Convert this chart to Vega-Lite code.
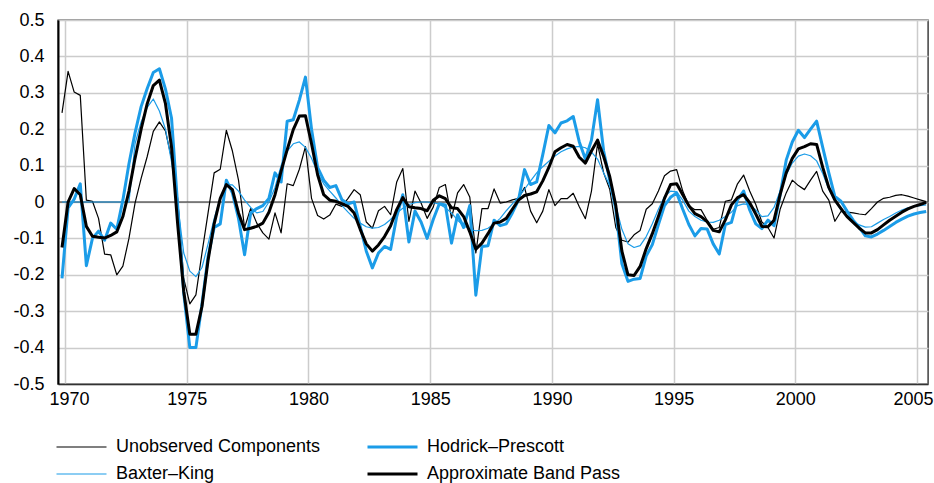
{
  "$schema": "https://vega.github.io/schema/vega-lite/v6.json",
  "width": 870,
  "height": 364,
  "autosize": {"type": "none"},
  "padding": {"left": 58, "top": 20, "right": 6, "bottom": 99},
  "background": "white",
  "config": {
    "font": "Liberation Sans",
    "view": {"stroke": "#333333", "strokeWidth": 1.4},
    "axis": {"labelFont": "Liberation Sans", "labelFontSize": 18, "labelColor": "black", "ticks": false, "gridColor": "#cccccc", "gridWidth": 1.5, "title": null, "labelOverlap": false},
    "axisY": {"grid": true},
    "axisX": {"grid": true}
  },
  "layer": [
    {
      "data": {"values": [{}]},
      "mark": {"type": "rule", "color": "#222222", "strokeWidth": 1.2},
      "encoding": {"y": {"datum": 0, "type": "quantitative", "scale": {"domain": [-0.5, 0.5], "nice": false},
        "axis": {"values": [-0.5, -0.4, -0.3, -0.2, -0.1, 0, 0.1, 0.2, 0.3, 0.4, 0.5], "grid": true, "labelPadding": 14, "domainColor": "black", "domainWidth": 2, "labelOverlap": false,
                 "labelExpr": "datum.value == 0 ? '0' : (datum.value < 0 ? '-' + format(-datum.value, '.1f') : format(datum.value, '.1f'))"}}}
    },
    {
      "data": {"values": [
        {"t":1969.875,"uc":0.245,"bk":0,"hp":-0.21,"abp":-0.125},
        {"t":1970.125,"uc":0.359,"bk":0,"hp":-0.016,"abp":0},
        {"t":1970.375,"uc":0.302,"bk":0,"hp":0.008,"abp":0.037},
        {"t":1970.625,"uc":0.293,"bk":0,"hp":0.05,"abp":0.02},
        {"t":1970.875,"uc":0.005,"bk":0,"hp":-0.175,"abp":-0.067},
        {"t":1971.125,"uc":0.002,"bk":0,"hp":-0.1,"abp":-0.094},
        {"t":1971.375,"uc":-0.045,"bk":0,"hp":-0.08,"abp":-0.097},
        {"t":1971.625,"uc":-0.143,"bk":0,"hp":-0.105,"abp":-0.099},
        {"t":1971.875,"uc":-0.145,"bk":0,"hp":-0.058,"abp":-0.092},
        {"t":1972.125,"uc":-0.2,"bk":0,"hp":-0.075,"abp":-0.082},
        {"t":1972.375,"uc":-0.176,"bk":0,"hp":0.005,"abp":-0.04},
        {"t":1972.625,"uc":-0.1,"bk":0,"hp":0.105,"abp":0.03},
        {"t":1972.875,"uc":-0.003,"bk":0.16,"hp":0.19,"abp":0.12},
        {"t":1973.125,"uc":0.065,"bk":0.22,"hp":0.262,"abp":0.2},
        {"t":1973.375,"uc":0.125,"bk":0.26,"hp":0.312,"abp":0.27},
        {"t":1973.625,"uc":0.194,"bk":0.283,"hp":0.356,"abp":0.32},
        {"t":1973.875,"uc":0.22,"bk":0.25,"hp":0.366,"abp":0.335},
        {"t":1974.125,"uc":0.195,"bk":0.2,"hp":0.31,"abp":0.27},
        {"t":1974.375,"uc":0.12,"bk":0.11,"hp":0.23,"abp":0.15},
        {"t":1974.625,"uc":0.01,"bk":-0.005,"hp":-0.01,"abp":-0.06},
        {"t":1974.875,"uc":-0.21,"bk":-0.14,"hp":-0.25,"abp":-0.245},
        {"t":1975.125,"uc":-0.28,"bk":-0.19,"hp":-0.4,"abp":-0.363},
        {"t":1975.375,"uc":-0.255,"bk":-0.205,"hp":-0.4,"abp":-0.363},
        {"t":1975.625,"uc":-0.14,"bk":-0.18,"hp":-0.28,"abp":-0.287},
        {"t":1975.875,"uc":-0.03,"bk":-0.115,"hp":-0.15,"abp":-0.16},
        {"t":1976.125,"uc":0.08,"bk":-0.046,"hp":-0.07,"abp":-0.06},
        {"t":1976.375,"uc":0.09,"bk":0.012,"hp":-0.06,"abp":0.01},
        {"t":1976.625,"uc":0.197,"bk":0.048,"hp":0.06,"abp":0.048},
        {"t":1976.875,"uc":0.14,"bk":0.047,"hp":0.025,"abp":0.034},
        {"t":1977.125,"uc":0.06,"bk":0.03,"hp":-0.045,"abp":-0.03},
        {"t":1977.375,"uc":-0.07,"bk":0.005,"hp":-0.145,"abp":-0.076},
        {"t":1977.625,"uc":-0.018,"bk":-0.015,"hp":-0.03,"abp":-0.072},
        {"t":1977.875,"uc":-0.058,"bk":-0.03,"hp":-0.018,"abp":-0.067},
        {"t":1978.125,"uc":-0.085,"bk":-0.026,"hp":-0.01,"abp":-0.058},
        {"t":1978.375,"uc":-0.102,"bk":0,"hp":0.01,"abp":-0.028},
        {"t":1978.625,"uc":-0.03,"bk":0.04,"hp":0.08,"abp":0.02},
        {"t":1978.875,"uc":-0.085,"bk":0.1,"hp":0.055,"abp":0.085},
        {"t":1979.125,"uc":0.05,"bk":0.14,"hp":0.222,"abp":0.144},
        {"t":1979.375,"uc":0.045,"bk":0.16,"hp":0.226,"abp":0.199},
        {"t":1979.625,"uc":0.09,"bk":0.165,"hp":0.28,"abp":0.236},
        {"t":1979.875,"uc":0.152,"bk":0.15,"hp":0.343,"abp":0.237},
        {"t":1980.125,"uc":0.01,"bk":0.12,"hp":0.2,"abp":0.16},
        {"t":1980.375,"uc":-0.037,"bk":0.08,"hp":0.095,"abp":0.075},
        {"t":1980.625,"uc":-0.047,"bk":0.05,"hp":0.06,"abp":0.02},
        {"t":1980.875,"uc":-0.036,"bk":0.03,"hp":0.04,"abp":0.005},
        {"t":1981.125,"uc":-0.006,"bk":0.011,"hp":0.045,"abp":0.002},
        {"t":1981.375,"uc":-0.012,"bk":-0.01,"hp":0.006,"abp":-0.005},
        {"t":1981.625,"uc":0.01,"bk":-0.028,"hp":-0.005,"abp":-0.012},
        {"t":1981.875,"uc":0.034,"bk":-0.045,"hp":0,"abp":-0.03},
        {"t":1982.125,"uc":0.02,"bk":-0.058,"hp":-0.067,"abp":-0.075},
        {"t":1982.375,"uc":-0.055,"bk":-0.068,"hp":-0.135,"abp":-0.115},
        {"t":1982.625,"uc":-0.072,"bk":-0.072,"hp":-0.181,"abp":-0.135},
        {"t":1982.875,"uc":-0.024,"bk":-0.07,"hp":-0.14,"abp":-0.118},
        {"t":1983.125,"uc":-0.012,"bk":-0.062,"hp":-0.122,"abp":-0.095},
        {"t":1983.375,"uc":-0.035,"bk":-0.048,"hp":-0.13,"abp":-0.065},
        {"t":1983.625,"uc":0.055,"bk":-0.03,"hp":-0.04,"abp":-0.021},
        {"t":1983.875,"uc":0.092,"bk":-0.017,"hp":0.02,"abp":0.012},
        {"t":1984.125,"uc":-0.053,"bk":-0.007,"hp":-0.11,"abp":-0.013},
        {"t":1984.375,"uc":0.03,"bk":-0.002,"hp":-0.025,"abp":-0.016},
        {"t":1984.625,"uc":-0.003,"bk":0,"hp":-0.055,"abp":-0.018},
        {"t":1984.875,"uc":-0.045,"bk":0,"hp":-0.1,"abp":-0.024},
        {"t":1985.125,"uc":-0.014,"bk":-0.002,"hp":-0.048,"abp":0.005},
        {"t":1985.375,"uc":0.04,"bk":-0.006,"hp":-0.005,"abp":0.017},
        {"t":1985.625,"uc":0.048,"bk":-0.016,"hp":-0.008,"abp":0.009},
        {"t":1985.875,"uc":-0.044,"bk":-0.03,"hp":-0.113,"abp":-0.016},
        {"t":1986.125,"uc":0.025,"bk":-0.05,"hp":-0.035,"abp":-0.018},
        {"t":1986.375,"uc":0.048,"bk":-0.065,"hp":-0.07,"abp":-0.04},
        {"t":1986.625,"uc":0.014,"bk":-0.075,"hp":-0.01,"abp":-0.082},
        {"t":1986.875,"uc":-0.14,"bk":-0.079,"hp":-0.256,"abp":-0.13},
        {"t":1987.125,"uc":-0.018,"bk":-0.078,"hp":-0.122,"abp":-0.113},
        {"t":1987.375,"uc":-0.018,"bk":-0.072,"hp":-0.12,"abp":-0.087},
        {"t":1987.625,"uc":0.036,"bk":-0.06,"hp":-0.05,"abp":-0.058},
        {"t":1987.875,"uc":-0.003,"bk":-0.045,"hp":-0.065,"abp":-0.055},
        {"t":1988.125,"uc":0,"bk":-0.024,"hp":-0.06,"abp":-0.045},
        {"t":1988.375,"uc":0.006,"bk":-0.005,"hp":-0.03,"abp":-0.02},
        {"t":1988.625,"uc":0.01,"bk":0.013,"hp":0.005,"abp":0.005},
        {"t":1988.875,"uc":0.04,"bk":0.035,"hp":0.089,"abp":0.018},
        {"t":1989.125,"uc":-0.025,"bk":0.058,"hp":0.048,"abp":0.022},
        {"t":1989.375,"uc":-0.057,"bk":0.08,"hp":0.055,"abp":0.028},
        {"t":1989.625,"uc":-0.025,"bk":0.097,"hp":0.13,"abp":0.058},
        {"t":1989.875,"uc":0.034,"bk":0.112,"hp":0.21,"abp":0.095},
        {"t":1990.125,"uc":-0.01,"bk":0.126,"hp":0.19,"abp":0.138},
        {"t":1990.375,"uc":0.009,"bk":0.138,"hp":0.217,"abp":0.149},
        {"t":1990.625,"uc":0.009,"bk":0.146,"hp":0.223,"abp":0.158},
        {"t":1990.875,"uc":0.024,"bk":0.151,"hp":0.235,"abp":0.153},
        {"t":1991.125,"uc":-0.013,"bk":0.153,"hp":0.165,"abp":0.123},
        {"t":1991.375,"uc":-0.046,"bk":0.149,"hp":0.118,"abp":0.107},
        {"t":1991.625,"uc":0.03,"bk":0.137,"hp":0.17,"abp":0.14},
        {"t":1991.875,"uc":0.16,"bk":0.118,"hp":0.281,"abp":0.17},
        {"t":1992.125,"uc":0.08,"bk":0.08,"hp":0.14,"abp":0.125},
        {"t":1992.375,"uc":0.035,"bk":0.045,"hp":0.06,"abp":0.07},
        {"t":1992.625,"uc":-0.07,"bk":-0.01,"hp":-0.02,"abp":-0.01},
        {"t":1992.875,"uc":-0.105,"bk":-0.075,"hp":-0.17,"abp":-0.135},
        {"t":1993.125,"uc":-0.11,"bk":-0.115,"hp":-0.218,"abp":-0.2},
        {"t":1993.375,"uc":-0.09,"bk":-0.125,"hp":-0.212,"abp":-0.202},
        {"t":1993.625,"uc":-0.078,"bk":-0.12,"hp":-0.21,"abp":-0.177},
        {"t":1993.875,"uc":-0.02,"bk":-0.095,"hp":-0.148,"abp":-0.128},
        {"t":1994.125,"uc":-0.005,"bk":-0.06,"hp":-0.117,"abp":-0.087},
        {"t":1994.375,"uc":0.03,"bk":-0.02,"hp":-0.062,"abp":-0.04},
        {"t":1994.625,"uc":0.072,"bk":0.015,"hp":-0.01,"abp":0.01},
        {"t":1994.875,"uc":0.085,"bk":0.03,"hp":0.013,"abp":0.048},
        {"t":1995.125,"uc":0.089,"bk":0.028,"hp":0.025,"abp":0.05},
        {"t":1995.375,"uc":0.03,"bk":0.005,"hp":-0.02,"abp":0.02},
        {"t":1995.625,"uc":-0.01,"bk":-0.025,"hp":-0.062,"abp":-0.01},
        {"t":1995.875,"uc":-0.021,"bk":-0.04,"hp":-0.093,"abp":-0.032},
        {"t":1996.125,"uc":-0.021,"bk":-0.05,"hp":-0.073,"abp":-0.04},
        {"t":1996.375,"uc":-0.05,"bk":-0.055,"hp":-0.074,"abp":-0.054},
        {"t":1996.625,"uc":-0.075,"bk":-0.056,"hp":-0.115,"abp":-0.078},
        {"t":1996.875,"uc":-0.07,"bk":-0.05,"hp":-0.143,"abp":-0.082},
        {"t":1997.125,"uc":0.002,"bk":-0.04,"hp":-0.062,"abp":-0.049},
        {"t":1997.375,"uc":0.006,"bk":-0.028,"hp":-0.056,"abp":-0.008},
        {"t":1997.625,"uc":0.05,"bk":-0.01,"hp":0.006,"abp":0.012},
        {"t":1997.875,"uc":0.074,"bk":-0.005,"hp":0.03,"abp":0.02},
        {"t":1998.125,"uc":0.03,"bk":-0.008,"hp":-0.022,"abp":-0.002},
        {"t":1998.375,"uc":-0.007,"bk":-0.022,"hp":-0.06,"abp":-0.033},
        {"t":1998.625,"uc":-0.055,"bk":-0.04,"hp":-0.073,"abp":-0.067},
        {"t":1998.875,"uc":-0.07,"bk":-0.038,"hp":-0.05,"abp":-0.068},
        {"t":1999.125,"uc":-0.099,"bk":-0.015,"hp":-0.065,"abp":-0.05},
        {"t":1999.375,"uc":-0.02,"bk":0.03,"hp":0.02,"abp":0.02},
        {"t":1999.625,"uc":0.025,"bk":0.075,"hp":0.115,"abp":0.08},
        {"t":1999.875,"uc":0.06,"bk":0.107,"hp":0.165,"abp":0.12},
        {"t":2000.125,"uc":0.045,"bk":0.126,"hp":0.197,"abp":0.146},
        {"t":2000.375,"uc":0.034,"bk":0.132,"hp":0.177,"abp":0.152},
        {"t":2000.625,"uc":0.06,"bk":0.127,"hp":0.2,"abp":0.16},
        {"t":2000.875,"uc":0.084,"bk":0.113,"hp":0.222,"abp":0.158},
        {"t":2001.125,"uc":0.03,"bk":0.078,"hp":0.15,"abp":0.095},
        {"t":2001.375,"uc":0.005,"bk":0.035,"hp":0.08,"abp":0.04},
        {"t":2001.625,"uc":-0.053,"bk":0.004,"hp":0.015,"abp":0.005},
        {"t":2001.875,"uc":-0.026,"bk":-0.022,"hp":0.002,"abp":-0.018},
        {"t":2002.125,"uc":-0.028,"bk":-0.038,"hp":-0.025,"abp":-0.04},
        {"t":2002.375,"uc":-0.03,"bk":-0.052,"hp":-0.05,"abp":-0.056},
        {"t":2002.625,"uc":-0.033,"bk":-0.063,"hp":-0.07,"abp":-0.072},
        {"t":2002.875,"uc":-0.035,"bk":-0.069,"hp":-0.093,"abp":-0.085},
        {"t":2003.125,"uc":-0.018,"bk":-0.068,"hp":-0.096,"abp":-0.085},
        {"t":2003.375,"uc":0,"bk":-0.058,"hp":-0.088,"abp":-0.076},
        {"t":2003.625,"uc":0.01,"bk":-0.048,"hp":-0.078,"abp":-0.063},
        {"t":2003.875,"uc":0.013,"bk":-0.04,"hp":-0.067,"abp":-0.05},
        {"t":2004.125,"uc":0.018,"bk":-0.03,"hp":-0.056,"abp":-0.039},
        {"t":2004.375,"uc":0.02,"bk":-0.022,"hp":-0.047,"abp":-0.028},
        {"t":2004.625,"uc":0.016,"bk":-0.016,"hp":-0.039,"abp":-0.019},
        {"t":2004.875,"uc":0.011,"bk":-0.012,"hp":-0.033,"abp":-0.012},
        {"t":2005.125,"uc":0.006,"bk":-0.01,"hp":-0.029,"abp":-0.007},
        {"t":2005.375,"uc":0.001,"bk":-0.008,"hp":-0.026,"abp":-0.001}
      ]},
      "transform": [{"fold": ["uc", "bk", "hp", "abp"], "as": ["series", "value"]}],
      "mark": {"type": "line", "strokeJoin": "round"},
      "encoding": {
        "x": {
          "field": "t", "type": "quantitative",
          "scale": {"domain": [1969.71, 2005.45], "nice": false, "zero": false},
          "axis": {"values": [1970, 1975, 1980, 1985, 1990, 1995, 2000, 2005], "format": "d", "grid": true, "labelPadding": 6, "domainColor": "#333333", "domainWidth": 1.4, "labelOverlap": false, "labelFlush": 12, "labelFlushOffset": 16}
        },
        "y": {
          "field": "value", "type": "quantitative",
          "scale": {"domain": [-0.5, 0.5], "nice": false},
          "axis": {"values": [-0.5, -0.4, -0.3, -0.2, -0.1, 0, 0.1, 0.2, 0.3, 0.4, 0.5], "grid": true, "labelPadding": 14, "domainColor": "black", "domainWidth": 2, "labelOverlap": false,
                   "labelExpr": "datum.value == 0 ? '0' : (datum.value < 0 ? '-' + format(-datum.value, '.1f') : format(datum.value, '.1f'))"}
        },
        "color": {
          "field": "series", "type": "nominal",
          "scale": {"domain": ["uc", "bk", "hp", "abp"], "range": ["#000000", "#1b9ce8", "#1b9ce8", "#000000"]},
          "legend": {
            "title": null, "orient": "none", "legendX": -3, "legendY": 417, "columns": 2,
            "symbolType": "stroke", "symbolSize": 2500, "labelFontSize": 18, "labelFont": "Liberation Sans", "labelColor": "black",
            "rowPadding": 7, "columnPadding": 45, "labelOffset": 8, "labelLimit": 400, "clipHeight": 20,
            "labelExpr": "datum.label == 'uc' ? 'Unobserved Components' : datum.label == 'hp' ? 'Hodrick–Prescott' : datum.label == 'bk' ? 'Baxter–King' : 'Approximate Band Pass'"
          }
        },
        "strokeWidth": {
          "field": "series", "type": "nominal",
          "scale": {"type": "ordinal", "domain": ["uc", "bk", "hp", "abp"], "range": [1.2, 1.2, 3, 3]},
          "legend": {
            "title": null, "orient": "none", "legendX": -3, "legendY": 417, "columns": 2,
            "symbolType": "stroke", "symbolSize": 2500, "labelFontSize": 18, "labelFont": "Liberation Sans", "labelColor": "black",
            "rowPadding": 7, "columnPadding": 45, "labelOffset": 8, "labelLimit": 400, "clipHeight": 20,
            "labelExpr": "datum.label == 'uc' ? 'Unobserved Components' : datum.label == 'hp' ? 'Hodrick–Prescott' : datum.label == 'bk' ? 'Baxter–King' : 'Approximate Band Pass'"
          }
        },
        "order": {"field": "t", "type": "quantitative"}
      }
    }
  ]
}
